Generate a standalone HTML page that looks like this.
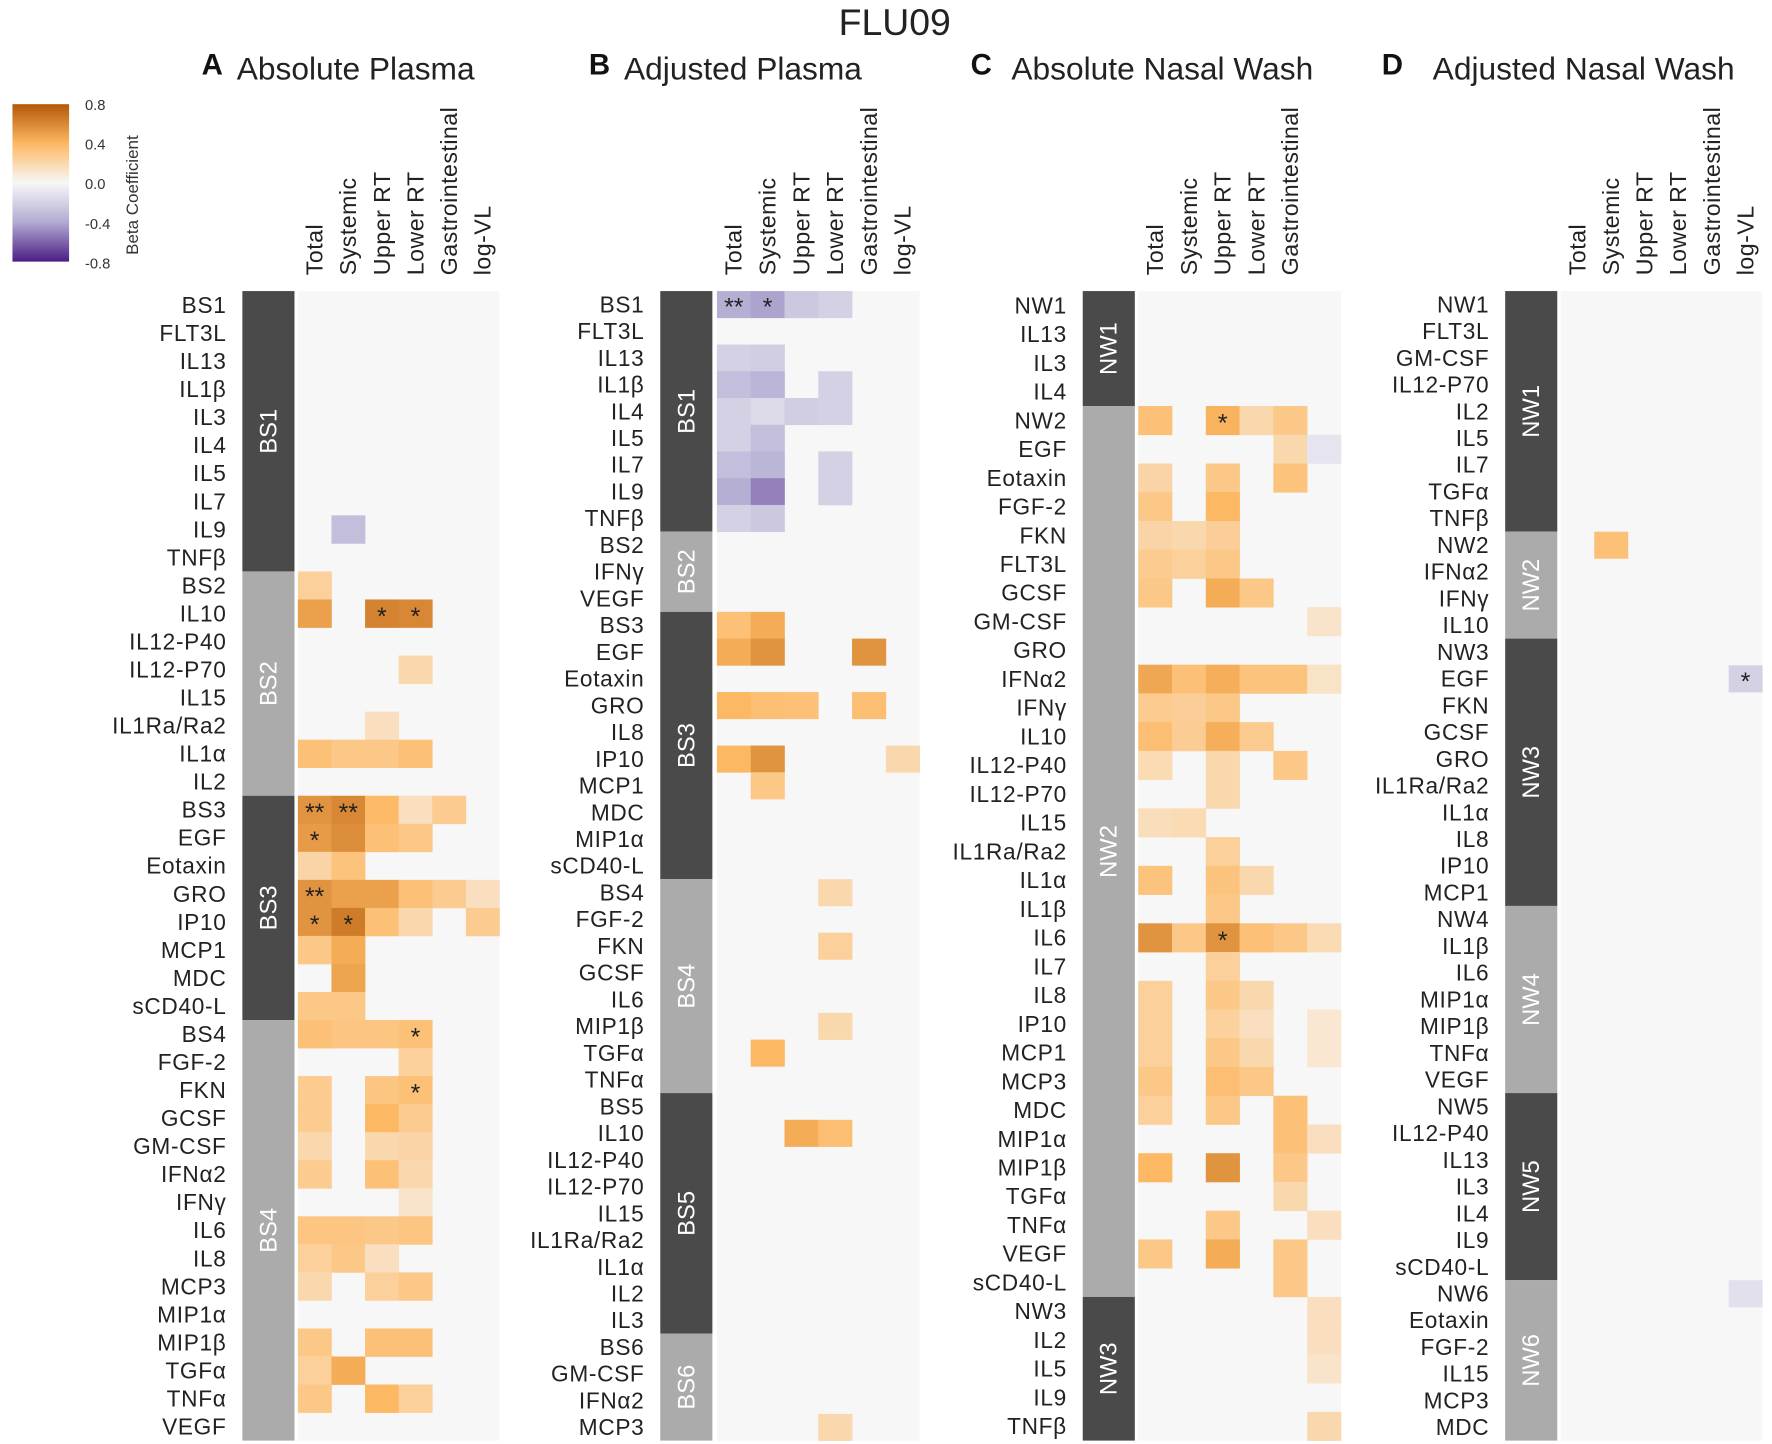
<!DOCTYPE html>
<html><head><meta charset="utf-8">
<style>
html,body{margin:0;padding:0;background:#fff;}
svg{display:block;font-family:"Liberation Sans",sans-serif;}
</style></head>
<body>
<svg id="fig" width="1772" height="1444" viewBox="0 0 1564.6 1275" preserveAspectRatio="none" xmlns="http://www.w3.org/2000/svg">
<defs>
<linearGradient id="cbgrad" x1="0" y1="0" x2="0" y2="1">
<stop offset="0" stop-color="#b35806"/>
<stop offset="0.25" stop-color="#fdb863"/>
<stop offset="0.5" stop-color="#f7f7f7"/>
<stop offset="0.75" stop-color="#b2abd2"/>
<stop offset="1" stop-color="#4b1d84"/>
</linearGradient>
</defs>
<text x="790" y="31" font-size="33" text-anchor="middle" fill="#222">FLU09</text>
<g>
<rect x="11" y="92" width="50" height="139" fill="url(#cbgrad)"/>
<text x="75" y="97" font-size="13" fill="#333">0.8</text>
<text x="75" y="132" font-size="13" fill="#333">0.4</text>
<text x="75" y="167" font-size="13" fill="#333">0.0</text>
<text x="75" y="202" font-size="13" fill="#333">-0.4</text>
<text x="75" y="237" font-size="13" fill="#333">-0.8</text>
<text transform="translate(122,225) rotate(-90)" font-size="15" fill="#333">Beta Coefficient</text>
</g>
</svg>
<script>
// ---- data ----
const columns = ["Total","Systemic","Upper RT","Lower RT","Gastrointestinal","log-VL"];
const columnsC = ["Total","Systemic","Upper RT","Lower RT","Gastrointestinal",""];

const rowsA = ["BS1","FLT3L","IL13","IL1β","IL3","IL4","IL5","IL7","IL9","TNFβ","BS2","IL10","IL12-P40","IL12-P70","IL15","IL1Ra/Ra2","IL1α","IL2","BS3","EGF","Eotaxin","GRO","IP10","MCP1","MDC","sCD40-L","BS4","FGF-2","FKN","GCSF","GM-CSF","IFNα2","IFNγ","IL6","IL8","MCP3","MIP1α","MIP1β","TGFα","TNFα","VEGF"];
const groupsA = [["BS1",10],["BS2",8],["BS3",8],["BS4",15]];
const cellsA = [
["IL9",1,-0.3,""],["BS2",0,0.25,""],
["IL10",0,0.5,""],["IL10",2,0.62,"*"],["IL10",3,0.6,"*"],
["IL12-P70",3,0.2,""],["IL1Ra/Ra2",2,0.15,""],
["IL1α",0,0.35,""],["IL1α",1,0.3,""],["IL1α",2,0.3,""],["IL1α",3,0.35,""],
["BS3",0,0.55,"**"],["BS3",1,0.6,"**"],["BS3",2,0.38,""],["BS3",3,0.15,""],["BS3",4,0.28,""],
["EGF",0,0.52,"*"],["EGF",1,0.58,""],["EGF",2,0.35,""],["EGF",3,0.3,""],
["Eotaxin",0,0.22,""],["Eotaxin",1,0.33,""],
["GRO",0,0.55,"**"],["GRO",1,0.5,""],["GRO",2,0.5,""],["GRO",3,0.35,""],["GRO",4,0.28,""],["GRO",5,0.15,""],
["IP10",0,0.55,"*"],["IP10",1,0.65,"*"],["IP10",2,0.35,""],["IP10",3,0.2,""],["IP10",5,0.28,""],
["MCP1",0,0.3,""],["MCP1",1,0.45,""],["MDC",1,0.48,""],
["sCD40-L",0,0.3,""],["sCD40-L",1,0.3,""],
["BS4",0,0.35,""],["BS4",1,0.32,""],["BS4",2,0.32,""],["BS4",3,0.35,"*"],
["FGF-2",3,0.25,""],
["FKN",0,0.28,""],["FKN",2,0.32,""],["FKN",3,0.35,"*"],
["GCSF",0,0.28,""],["GCSF",2,0.4,""],["GCSF",3,0.28,""],
["GM-CSF",0,0.2,""],["GM-CSF",2,0.2,""],["GM-CSF",3,0.22,""],
["IFNα2",0,0.28,""],["IFNα2",2,0.35,""],["IFNα2",3,0.2,""],
["IFNγ",3,0.12,""],
["IL6",0,0.32,""],["IL6",1,0.32,""],["IL6",2,0.3,""],["IL6",3,0.32,""],
["IL8",0,0.25,""],["IL8",1,0.3,""],["IL8",2,0.15,""],
["MCP3",0,0.2,""],["MCP3",2,0.25,""],["MCP3",3,0.3,""],
["MIP1β",0,0.3,""],["MIP1β",2,0.35,""],["MIP1β",3,0.35,""],
["TGFα",0,0.25,""],["TGFα",1,0.45,""],
["TNFα",0,0.3,""],["TNFα",2,0.4,""],["TNFα",3,0.25,""]
];

const rowsB = ["BS1","FLT3L","IL13","IL1β","IL4","IL5","IL7","IL9","TNFβ","BS2","IFNγ","VEGF","BS3","EGF","Eotaxin","GRO","IL8","IP10","MCP1","MDC","MIP1α","sCD40-L","BS4","FGF-2","FKN","GCSF","IL6","MIP1β","TGFα","TNFα","BS5","IL10","IL12-P40","IL12-P70","IL15","IL1Ra/Ra2","IL1α","IL2","IL3","BS6","GM-CSF","IFNα2","MCP3"];
const groupsB = [["BS1",9],["BS2",3],["BS3",10],["BS4",8],["BS5",9],["BS6",4]];
const cellsB = [
["BS1",0,-0.38,"**"],["BS1",1,-0.42,"*"],["BS1",2,-0.25,""],["BS1",3,-0.2,""],
["IL13",0,-0.2,""],["IL13",1,-0.22,""],
["IL1β",0,-0.3,""],["IL1β",1,-0.35,""],["IL1β",3,-0.2,""],
["IL4",0,-0.2,""],["IL4",1,-0.15,""],["IL4",2,-0.22,""],["IL4",3,-0.2,""],
["IL5",0,-0.2,""],["IL5",1,-0.3,""],
["IL7",0,-0.3,""],["IL7",1,-0.35,""],["IL7",3,-0.2,""],
["IL9",0,-0.38,""],["IL9",1,-0.52,""],["IL9",3,-0.2,""],
["TNFβ",0,-0.2,""],["TNFβ",1,-0.25,""],
["BS3",0,0.35,""],["BS3",1,0.45,""],
["EGF",0,0.45,""],["EGF",1,0.55,""],["EGF",4,0.55,""],
["GRO",0,0.4,""],["GRO",1,0.36,""],["GRO",2,0.35,""],["GRO",4,0.36,""],
["IP10",0,0.4,""],["IP10",1,0.55,""],["IP10",5,0.2,""],
["MCP1",1,0.3,""],
["BS4",3,0.2,""],["FKN",3,0.25,""],["MIP1β",3,0.2,""],["TGFα",1,0.4,""],
["IL10",2,0.45,""],["IL10",3,0.36,""],["MCP3",3,0.2,""]
];

const rowsC = ["NW1","IL13","IL3","IL4","NW2","EGF","Eotaxin","FGF-2","FKN","FLT3L","GCSF","GM-CSF","GRO","IFNα2","IFNγ","IL10","IL12-P40","IL12-P70","IL15","IL1Ra/Ra2","IL1α","IL1β","IL6","IL7","IL8","IP10","MCP1","MCP3","MDC","MIP1α","MIP1β","TGFα","TNFα","VEGF","sCD40-L","NW3","IL2","IL5","IL9","TNFβ"];
const groupsC = [["NW1",4],["NW2",31],["NW3",5]];
const cellsC = [
["NW2",0,0.35,""],["NW2",2,0.42,"*"],["NW2",3,0.2,""],["NW2",4,0.3,""],
["EGF",4,0.2,""],["EGF",5,-0.1,""],
["Eotaxin",0,0.22,""],["Eotaxin",2,0.3,""],["Eotaxin",4,0.33,""],
["FGF-2",0,0.3,""],["FGF-2",2,0.4,""],
["FKN",0,0.22,""],["FKN",1,0.2,""],["FKN",2,0.26,""],
["FLT3L",0,0.28,""],["FLT3L",1,0.25,""],["FLT3L",2,0.3,""],
["GCSF",0,0.3,""],["GCSF",2,0.45,""],["GCSF",3,0.3,""],
["GM-CSF",5,0.12,""],
["IFNα2",0,0.47,""],["IFNα2",1,0.35,""],["IFNα2",2,0.44,""],["IFNα2",3,0.33,""],["IFNα2",4,0.33,""],["IFNα2",5,0.13,""],
["IFNγ",0,0.28,""],["IFNγ",1,0.26,""],["IFNγ",2,0.3,""],
["IL10",0,0.36,""],["IL10",1,0.27,""],["IL10",2,0.44,""],["IL10",3,0.28,""],
["IL12-P40",0,0.18,""],["IL12-P40",2,0.2,""],["IL12-P40",4,0.3,""],
["IL12-P70",2,0.2,""],
["IL15",0,0.16,""],["IL15",1,0.18,""],
["IL1Ra/Ra2",2,0.25,""],
["IL1α",0,0.33,""],["IL1α",2,0.33,""],["IL1α",3,0.2,""],
["IL1β",2,0.3,""],
["IL6",0,0.55,""],["IL6",1,0.3,""],["IL6",2,0.55,"*"],["IL6",3,0.35,""],["IL6",4,0.3,""],["IL6",5,0.18,""],
["IL7",2,0.25,""],
["IL8",0,0.25,""],["IL8",2,0.3,""],["IL8",3,0.2,""],
["IP10",0,0.25,""],["IP10",2,0.24,""],["IP10",3,0.15,""],["IP10",5,0.1,""],
["MCP1",0,0.25,""],["MCP1",2,0.3,""],["MCP1",3,0.2,""],["MCP1",5,0.1,""],
["MCP3",0,0.3,""],["MCP3",2,0.36,""],["MCP3",3,0.3,""],
["MDC",0,0.25,""],["MDC",2,0.3,""],["MDC",4,0.35,""],
["MIP1α",4,0.35,""],["MIP1α",5,0.15,""],
["MIP1β",0,0.4,""],["MIP1β",2,0.55,""],["MIP1β",4,0.3,""],
["TGFα",4,0.2,""],
["TNFα",2,0.3,""],["TNFα",5,0.15,""],
["VEGF",0,0.3,""],["VEGF",2,0.45,""],["VEGF",4,0.3,""],
["sCD40-L",4,0.3,""],
["NW3",5,0.15,""],["IL2",5,0.15,""],["IL5",5,0.12,""],["TNFβ",5,0.2,""]
];

const rowsD = ["NW1","FLT3L","GM-CSF","IL12-P70","IL2","IL5","IL7","TGFα","TNFβ","NW2","IFNα2","IFNγ","IL10","NW3","EGF","FKN","GCSF","GRO","IL1Ra/Ra2","IL1α","IL8","IP10","MCP1","NW4","IL1β","IL6","MIP1α","MIP1β","TNFα","VEGF","NW5","IL12-P40","IL13","IL3","IL4","IL9","sCD40-L","NW6","Eotaxin","FGF-2","IL15","MCP3","MDC"];
const groupsD = [["NW1",9],["NW2",4],["NW3",10],["NW4",7],["NW5",7],["NW6",6]];
const cellsD = [
["NW2",1,0.35,""],["EGF",5,-0.2,"*"],["NW6",5,-0.12,""]
];

// ---- rendering ----
const NS = "http://www.w3.org/2000/svg";
const svg = document.getElementById("fig");
function mk(tag, attrs){ const e=document.createElementNS(NS,tag); for(const k in attrs) e.setAttribute(k,attrs[k]); return e; }
function hex(h){ return [parseInt(h.slice(1,3),16),parseInt(h.slice(3,5),16),parseInt(h.slice(5,7),16)]; }
const stops = [[-0.8,"#4b1d84"],[-0.4,"#b2abd2"],[0,"#f7f7f7"],[0.4,"#fdb863"],[0.8,"#b35806"]];
function color(v){
  v=Math.max(-0.8,Math.min(0.8,v));
  for(let i=0;i<stops.length-1;i++){
    const [a,ca]=stops[i],[b,cb]=stops[i+1];
    if(v>=a && v<=b){ const t=(v-a)/(b-a); const A=hex(ca),B=hex(cb);
      return "rgb("+A.map((x,j)=>Math.round(x+(B[j]-x)*t)).join(",")+")"; }
  }
  return "#f7f7f7";
}
const TOP=257, BOTTOM=1272;
const panels = [
  {key:"a", letter:"A", title:"Absolute Plasma", lx:178, tx:209, bar:214, x0:263, x1:441, rows:rowsA, groups:groupsA, cells:cellsA, cols:columns},
  {key:"b", letter:"B", title:"Adjusted Plasma", lx:520, tx:551, bar:583, x0:633, x1:812, rows:rowsB, groups:groupsB, cells:cellsB, cols:columns},
  {key:"c", letter:"C", title:"Absolute Nasal Wash", lx:857, tx:893, bar:956, x0:1005, x1:1184, rows:rowsC, groups:groupsC, cells:cellsC, cols:columnsC},
  {key:"d", letter:"D", title:"Adjusted Nasal Wash", lx:1220, tx:1265, bar:1329, x0:1378, x1:1556, rows:rowsD, groups:groupsD, cells:cellsD, cols:columns}
];
panels.forEach(p=>{
  const g = mk("g",{});
  
  
  svg.appendChild(g);
  const L = mk("text",{x:p.lx,y:66,"font-size":26,"font-weight":"bold",fill:"#111"}); L.textContent=p.letter;
  
  
  g.appendChild(L);
  const T = mk("text",{x:p.tx,y:70,"font-size":28,fill:"#222"}); T.textContent=p.title;
  
  
  g.appendChild(T);
  const n=p.rows.length, rh=(BOTTOM-TOP)/n, cw=(p.x1-p.x0)/6;
  const yOf = i=>TOP+i*rh;
  const xOf = c=>p.x0+c*cw;
  const bg = mk("rect",{x:p.x0,y:TOP,width:p.x1-p.x0,height:BOTTOM-TOP,fill:"#f7f7f7"});
  
  
  g.appendChild(bg);
  let start=0;
  p.groups.forEach((gr,gi)=>{
    const y=yOf(start), h=gr[1]*rh;
    const r = mk("rect",{x:p.bar,y:y,width:46,height:h,fill:gi%2===0?"#4a4a4a":"#ababab"});
    
    
    g.appendChild(r);
    const t = mk("text",{transform:`translate(${p.bar+23+7},${y+h/2}) rotate(-90)`,"font-size":21,fill:"#fff","text-anchor":"middle"});
    t.textContent=gr[0];
    
    
    g.appendChild(t);
    start+=gr[1];
  });
  p.rows.forEach((r,i)=>{
    const t = mk("text",{x:p.bar-14,y:yOf(i)+rh/2+7,"font-size":20,"letter-spacing":0.6,fill:"#222","text-anchor":"end"});
    t.textContent=r;
    
    
    g.appendChild(t);
  });
  p.cols.forEach((c,i)=>{
    if(!c) return;
    const t = mk("text",{transform:`translate(${xOf(i)+cw/2+7},243) rotate(-90)`,"font-size":20.5,"letter-spacing":0.4,fill:"#222"});
    t.textContent=c;
    
    
    g.appendChild(t);
  });
  p.cells.forEach(cell=>{
    const ri=p.rows.indexOf(cell[0]); if(ri<0) return;
    const r = mk("rect",{x:xOf(cell[1]),y:yOf(ri),width:cw+0.3,height:rh+0.3,fill:color(cell[2])});
    
    
    g.appendChild(r);
    if(cell[3]){
      const s = mk("text",{x:xOf(cell[1])+cw/2,y:yOf(ri)+rh/2+10,"font-size":22,fill:"#222","text-anchor":"middle"});
      s.textContent=cell[3];
      
      
      g.appendChild(s);
    }
  });
});
</script>
</body></html>
